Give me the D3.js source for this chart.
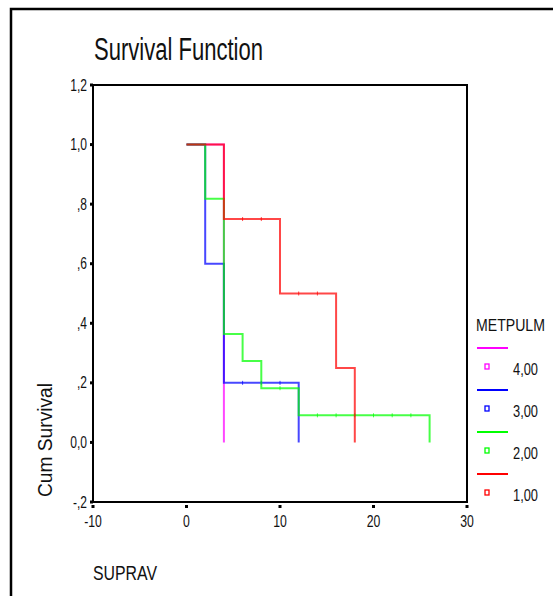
<!DOCTYPE html>
<html>
<head>
<meta charset="utf-8">
<script src="https://cdn.jsdelivr.net/npm/d3@7"></script>
<style>
  body { margin: 0; background: #fff; }
  text { font-family: "Liberation Sans Narrow", "Liberation Sans", Arial, sans-serif; fill: #111; }
</style>
</head>
<body>
<div id="chart"></div>
<script>
// values
const groups = ['4,00', '3,00', '2,00', '1,00'];
const groupColors = ['#ff00ff', '#0000ff', '#00ff00', '#ff0000'];

// step times and cumulative survival after each step, per group
const times4 = [0, 4];
const surv4 = [1, 0];
const cens4 = [];

const times3 = [0, 2, 4, 12];
const surv3 = [1, 0.6, 0.2, 0];
const cens3 = [6, 8, 10];

const times2 = [0, 2, 4, 6, 8, 12, 26];
const surv2 = [1, 0.818, 0.364, 0.273, 0.182, 0.091, 0];
const cens2 = [10, 14, 16, 18, 20, 22, 24];

const times1 = [0, 4, 10, 16, 18];
const surv1 = [1, 0.75, 0.5, 0.25, 0];
const cens1 = [6, 8, 12, 14];

const xTicks = [-10, 0, 10, 20, 30];
const yTicks = [-0.2, 0, 0.2, 0.4, 0.6, 0.8, 1.0, 1.2];
const yTickLabels = ['-,2', '0,0', ',2', ',4', ',6', ',8', '1,0', '1,2'];

const series = [
  {t: times4, s: surv4, c: cens4},
  {t: times3, s: surv3, c: cens3},
  {t: times2, s: surv2, c: cens2},
  {t: times1, s: surv1, c: cens1}
];

const width = 553, height = 596;
const margin = {top: 85, right: 86, bottom: 94, left: 93};

// the original font is a narrow one, so squeeze text to its widths
const narrowLen = s => String(s).split('').reduce((a, ch) => a + (ch === ',' ? 3.2 : ch === '-' ? 4 : 6.8), 0);

const svg = d3.create('svg')
  .attr('width', width)
  .attr('height', height);

// outer frame (only left and top show)
svg.append('path')
  .attr('d', `M11,${height} V9 H${width}`)
  .attr('fill', 'none')
  .attr('stroke', '#000')
  .attr('stroke-width', 2.5);

const xScale = d3.scaleLinear().domain([-10, 30]).range([margin.left, width - margin.right]);
const yScale = d3.scaleLinear().domain([-0.2, 1.2]).range([height - margin.bottom, margin.top]);

// title
svg.append('text')
  .attr('x', 94).attr('y', 60)
  .attr('font-size', 31)
  .attr('textLength', 169).attr('lengthAdjust', 'spacingAndGlyphs')
  .text('Survival Function');

// plot box
svg.append('rect')
  .attr('x', xScale(-10)).attr('y', yScale(1.2))
  .attr('width', xScale(30) - xScale(-10))
  .attr('height', yScale(-0.2) - yScale(1.2))
  .attr('fill', 'none')
  .attr('stroke', '#000')
  .attr('stroke-width', 2);

// y ticks
const yAxis = svg.append('g');
yAxis.selectAll('rect')
  .data(yTicks)
  .join('rect')
  .attr('x', xScale(-10) - 3).attr('y', d => yScale(d) - 1.5)
  .attr('width', 3).attr('height', 3)
  .attr('fill', '#000');
yAxis.selectAll('text')
  .data(yTicks)
  .join('text')
  .attr('x', xScale(-10) - 6).attr('y', d => yScale(d) + 5.5)
  .attr('text-anchor', 'end')
  .attr('font-size', 16)
  .attr('textLength', (d, i) => narrowLen(yTickLabels[i])).attr('lengthAdjust', 'spacingAndGlyphs')
  .text((d, i) => yTickLabels[i]);

// x ticks
const xAxis = svg.append('g');
xAxis.selectAll('rect')
  .data(xTicks)
  .join('rect')
  .attr('x', d => xScale(d) - 1.5).attr('y', yScale(-0.2) + 3)
  .attr('width', 3).attr('height', 3)
  .attr('fill', '#000');
xAxis.selectAll('text')
  .data(xTicks)
  .join('text')
  .attr('x', d => xScale(d)).attr('y', yScale(-0.2) + 25)
  .attr('text-anchor', 'middle')
  .attr('font-size', 16)
  .attr('textLength', d => narrowLen(d)).attr('lengthAdjust', 'spacingAndGlyphs')
  .text(d => d);

// axis titles
svg.append('text')
  .attr('transform', `translate(52, 440) rotate(-90)`)
  .attr('text-anchor', 'middle')
  .attr('font-size', 21)
  .attr('textLength', 114).attr('lengthAdjust', 'spacingAndGlyphs')
  .text('Cum Survival');

svg.append('text')
  .attr('x', 93).attr('y', 580)
  .attr('font-size', 20)
  .attr('textLength', 64).attr('lengthAdjust', 'spacingAndGlyphs')
  .text('SUPRAV');

// survival step curves
const curves = svg.append('g');
series.forEach(function(d, i) {
  const pts = [];
  d.t.forEach(function(t, j) {
    if (j > 0) pts.push([t, d.s[j - 1]]);
    pts.push([t, d.s[j]]);
  });
  curves.append('path')
    .attr('d', d3.line().x(p => xScale(p[0])).y(p => yScale(p[1]))(pts))
    .attr('fill', 'none')
    .attr('stroke', groupColors[i])
    .attr('stroke-opacity', 0.72)
    .attr('stroke-width', 2);

  // censored cases: small ticks on the curve
  const survAt = t => d.s[d3.bisectRight(d.t, t) - 1];
  curves.selectAll(null)
    .data(d.c)
    .join('line')
    .attr('x1', c => xScale(c)).attr('x2', c => xScale(c))
    .attr('y1', c => yScale(survAt(c)) - 2)
    .attr('y2', c => yScale(survAt(c)) + 2)
    .attr('stroke', groupColors[i])
    .attr('stroke-opacity', 0.72)
    .attr('stroke-width', 1);
});

// legend
const legend = svg.append('g');
legend.append('text')
  .attr('transform', 'translate(476, 331) scale(0.83, 1)')
  .attr('font-size', 17)
  .text('METPULM');

groups.forEach(function(g, i) {
  const y0 = 348 + i * 42;
  legend.append('line')
    .attr('x1', 477).attr('x2', 508)
    .attr('y1', y0).attr('y2', y0)
    .attr('stroke', groupColors[i])
    .attr('stroke-width', 2);
  legend.append('rect')
    .attr('x', 485).attr('y', y0 + 16)
    .attr('width', 4).attr('height', 5)
    .attr('fill', 'none')
    .attr('stroke', groupColors[i])
    .attr('stroke-width', 1.3);
  legend.append('text')
    .attr('x', 513).attr('y', y0 + 27)
    .attr('font-size', 16)
    .attr('textLength', 25).attr('lengthAdjust', 'spacingAndGlyphs')
    .text(g);
});

document.getElementById('chart').appendChild(svg.node());
</script>
</body>
</html>
